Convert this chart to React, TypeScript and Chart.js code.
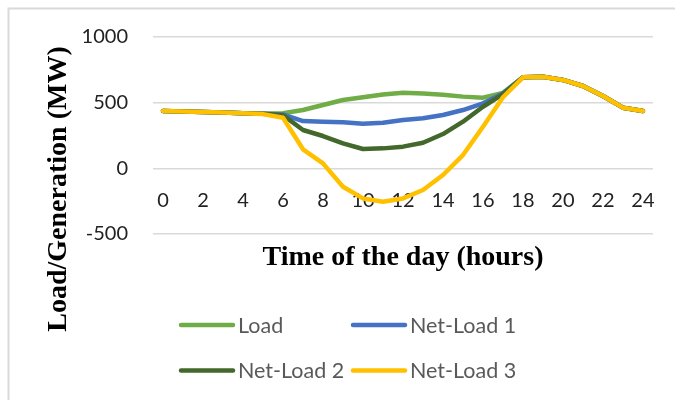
import React, { useEffect, useRef } from 'react';
import { Chart, registerables } from 'chart.js';

Chart.register(...registerables);

const hours = ['0', '1', '2', '3', '4', '5', '6', '7', '8', '9', '10', '11', '12', '13', '14', '15', '16', '17', '18', '19', '20', '21', '22', '23', '24'];
const load = [437, 432, 429, 425, 420, 415, 420, 444, 482, 520, 541, 562, 575, 570, 560, 546, 538, 575, 693, 698, 673, 627, 551, 462, 437];
const netLoad1 = [437, 432, 429, 425, 420, 415, 410, 360, 355, 350, 340, 347, 368, 381, 406, 444, 495, 570, 693, 698, 673, 627, 551, 462, 437];
const netLoad2 = [437, 432, 429, 425, 420, 415, 405, 292, 246, 190, 147, 152, 165, 195, 261, 355, 469, 565, 693, 698, 673, 627, 551, 462, 437];
const netLoad3 = [437, 432, 429, 425, 420, 413, 385, 145, 38, -140, -229, -254, -229, -165, -51, 101, 317, 541, 693, 698, 673, 627, 551, 462, 437];
const yMin = -500;
const yMax = 1000;
const yStep = 500;
const seriesNames = ['Load', 'Net-Load 1', 'Net-Load 2', 'Net-Load 3'];
const seriesColors = ['#70AD47', '#4472C4', '#43682B', '#FFC000'];
const xTitle = 'Time of the day (hours)';
const yTitle = 'Load/Generation (MW)';

const decorPlugin = {
  id: 'decor',
  beforeDraw(chart: any) {
    const ctx = chart.ctx;
    ctx.save();
    ctx.fillStyle = '#ffffff';
    ctx.fillRect(0, 0, chart.width, chart.height);
    ctx.strokeStyle = '#D9D9D9';
    ctx.lineWidth = 2;
    ctx.strokeRect(8.5, 8.5, 720, 460);
    ctx.restore();
  },
  afterDraw(chart: any) {
    const ctx = chart.ctx;
    ctx.save();
    // axis titles
    ctx.fillStyle = '#000000';
    ctx.font = 'bold 28px "Liberation Serif", "Times New Roman", serif';
    ctx.textAlign = 'center';
    ctx.textBaseline = 'alphabetic';
    ctx.fillText(xTitle, 403, 265);
    ctx.save();
    ctx.translate(66, 189);
    ctx.rotate(-Math.PI / 2);
    ctx.fillText(yTitle, 0, 0);
    ctx.restore();
    // legend (2 x 2)
    const ds = chart.data.datasets;
    ctx.font = '21.5px Lato, "Open Sans", sans-serif';
    ctx.textAlign = 'left';
    ctx.textBaseline = 'middle';
    for (let i = 0; i < ds.length; i++) {
      const col = i % 2;
      const row = Math.floor(i / 2);
      const x0 = 181 + col * 172;
      const y0 = 325 + row * 45.5;
      ctx.strokeStyle = ds[i].borderColor;
      ctx.lineWidth = 4.5;
      ctx.lineCap = 'round';
      ctx.beginPath();
      ctx.moveTo(x0, y0);
      ctx.lineTo(x0 + 52, y0);
      ctx.stroke();
      ctx.fillStyle = '#595959';
      ctx.fillText(ds[i].label, x0 + 57, y0 + 1);
    }
    ctx.restore();
  },
};

export default function App() {
  const canvasRef = useRef<HTMLCanvasElement | null>(null);

  useEffect(() => {
    const canvas = canvasRef.current;
    if (!canvas) return;
    const series = [load, netLoad1, netLoad2, netLoad3];
    const chart = new Chart(canvas, {
      type: 'line',
      data: {
        labels: hours,
        datasets: series.map((values, i) => ({
          label: seriesNames[i],
          data: values,
          borderColor: seriesColors[i],
          backgroundColor: seriesColors[i],
          borderWidth: 4.5,
          pointRadius: 0,
          tension: 0,
          fill: false,
          borderCapStyle: 'round',
          borderJoinStyle: 'round',
          order: series.length - 1 - i,
        })),
      },
      options: {
        animation: false,
        responsive: false,
        devicePixelRatio: 1,
        layout: { padding: { left: 0, right: 22, top: 37, bottom: 166 } },
        plugins: {
          legend: { display: false },
          tooltip: { enabled: false },
          title: { display: false },
        },
        scales: {
          x: {
            type: 'category',
            offset: true,
            position: { y: 0 },
            grid: { display: false, drawTicks: false },
            border: { display: false },
            ticks: {
              autoSkip: false,
              maxRotation: 0,
              minRotation: 0,
              padding: 20,
              color: '#222222',
              font: { family: 'Lato, "Open Sans", sans-serif', size: 20 },
              callback: (_v: any, idx: number) => (idx % 2 === 0 ? hours[idx] : ''),
            },
            afterFit: (s: any) => {
              s.height = 0;
            },
          },
          y: {
            min: yMin,
            max: yMax,
            grid: { color: '#D9D9D9', lineWidth: 1.5, drawTicks: false },
            border: { display: false },
            ticks: {
              stepSize: yStep,
              padding: 25,
              color: '#222222',
              font: { family: 'Lato, "Open Sans", sans-serif', size: 20 },
              callback: (v: any) => String(v),
            },
            afterFit: (s: any) => {
              s.width = 153;
            },
          },
        },
      },
      plugins: [decorPlugin],
    } as any);
    return () => chart.destroy();
  }, []);

  return (
    <div style={{ position: 'fixed', left: 0, top: 0, width: 675, height: 400, background: '#fff' }}>
      <canvas ref={canvasRef} width={675} height={400} style={{ width: 675, height: 400, display: 'block' }} />
    </div>
  );
}
